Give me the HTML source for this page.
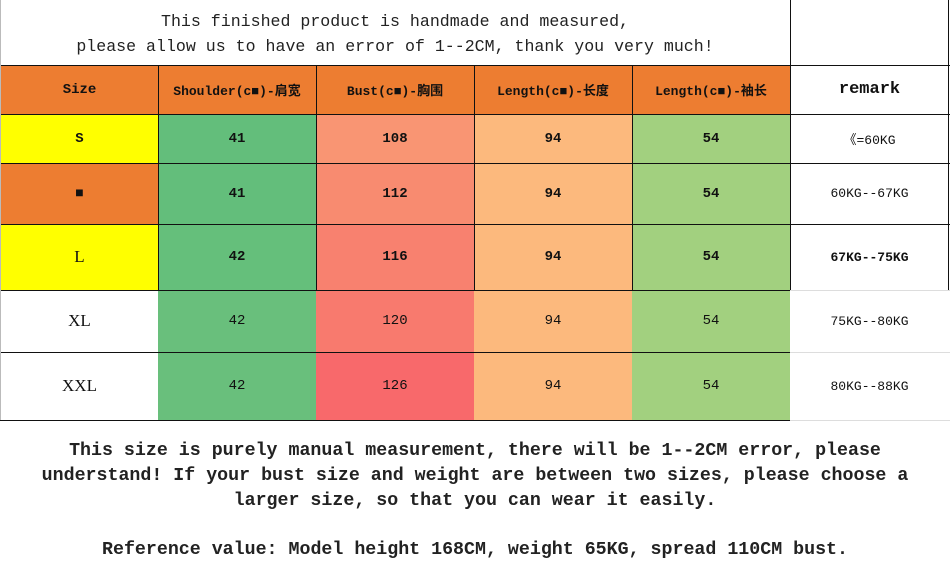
<!DOCTYPE html>
<html><head><meta charset="utf-8"><style>
body{margin:0;width:950px;height:574px;background:#fff;position:relative;overflow:hidden;font-family:"Liberation Mono","Noto Sans CJK SC",monospace;}
.c{position:absolute;display:flex;align-items:center;justify-content:center;color:#111;box-sizing:border-box;white-space:nowrap;}
.b{font-weight:bold;}
.h{position:absolute;background:#111;}
.t{position:absolute;left:0;width:950px;text-align:center;white-space:nowrap;color:#222;}
</style></head><body>
<div class="t" style="top:11px;width:790px;font-size:16.6px;line-height:22px">This finished product is handmade and measured,</div>
<div class="t" style="top:36px;width:790px;font-size:16.6px;line-height:22px">please allow us to have an error of 1--2CM, thank you very much!</div>

<!-- header -->
<div class="c b" style="left:1px;top:65px;width:157px;height:49px;background:#ED7D31;font-size:14px">Size</div>
<div class="c b" style="left:158px;top:65px;width:158px;height:49px;background:#ED7D31;font-size:13px">Shoulder(c■)-肩宽</div>
<div class="c b" style="left:316px;top:65px;width:158px;height:49px;background:#ED7D31;font-size:13px">Bust(c■)-胸围</div>
<div class="c b" style="left:474px;top:65px;width:158px;height:49px;background:#ED7D31;font-size:13px">Length(c■)-长度</div>
<div class="c b" style="left:632px;top:65px;width:158px;height:49px;background:#ED7D31;font-size:13px">Length(c■)-袖长</div>
<div class="c b" style="left:790px;top:65px;width:159px;height:49px;background:#fff;font-size:17px;font-family:'Liberation Mono',monospace">remark</div>

<!-- S -->
<div class="c b" style="left:1px;top:114px;width:157px;height:49px;background:#FFFF00;font-size:14px">S</div>
<div class="c b" style="left:158px;top:114px;width:158px;height:49px;background:#63BE7B;font-size:14px">41</div>
<div class="c b" style="left:316px;top:114px;width:158px;height:49px;background:#F99573;font-size:14px">108</div>
<div class="c b" style="left:474px;top:114px;width:158px;height:49px;background:#FCB97D;font-size:14px">94</div>
<div class="c b" style="left:632px;top:114px;width:158px;height:49px;background:#A2D07F;font-size:14px">54</div>
<div class="c" style="left:790px;top:114px;width:159px;height:49px;font-size:13px">《=60KG</div>
<!-- M -->
<div class="c b" style="left:1px;top:163px;width:157px;height:61px;background:#ED7D31;font-size:14px">■</div>
<div class="c b" style="left:158px;top:163px;width:158px;height:61px;background:#63BE7B;font-size:14px">41</div>
<div class="c b" style="left:316px;top:163px;width:158px;height:61px;background:#F88B70;font-size:14px">112</div>
<div class="c b" style="left:474px;top:163px;width:158px;height:61px;background:#FCB97D;font-size:14px">94</div>
<div class="c b" style="left:632px;top:163px;width:158px;height:61px;background:#A2D07F;font-size:14px">54</div>
<div class="c" style="left:790px;top:163px;width:159px;height:61px;font-size:13px">60KG--67KG</div>
<!-- L -->
<div class="c" style="left:1px;top:224px;width:157px;height:66px;background:#FFFF00;font-size:17px;font-family:'Liberation Serif',serif">L</div>
<div class="c b" style="left:158px;top:224px;width:158px;height:66px;background:#65BF7B;font-size:14px">42</div>
<div class="c b" style="left:316px;top:224px;width:158px;height:66px;background:#F8816F;font-size:14px">116</div>
<div class="c b" style="left:474px;top:224px;width:158px;height:66px;background:#FCB97D;font-size:14px">94</div>
<div class="c b" style="left:632px;top:224px;width:158px;height:66px;background:#A2D07F;font-size:14px">54</div>
<div class="c b" style="left:790px;top:224px;width:159px;height:66px;font-size:13px">67KG--75KG</div>
<!-- XL -->
<div class="c" style="left:1px;top:290px;width:157px;height:62px;font-size:17px;font-family:'Liberation Serif',serif">XL</div>
<div class="c" style="left:158px;top:290px;width:158px;height:62px;background:#69BF7C;font-size:14px">42</div>
<div class="c" style="left:316px;top:290px;width:158px;height:62px;background:#F87A6E;font-size:14px">120</div>
<div class="c" style="left:474px;top:290px;width:158px;height:62px;background:#FCB97D;font-size:14px">94</div>
<div class="c" style="left:632px;top:290px;width:158px;height:62px;background:#A2D07F;font-size:14px">54</div>
<div class="c" style="left:790px;top:290px;width:159px;height:62px;font-size:13px">75KG--80KG</div>
<!-- XXL -->
<div class="c" style="left:1px;top:352px;width:157px;height:68px;font-size:17px;font-family:'Liberation Serif',serif">XXL</div>
<div class="c" style="left:158px;top:352px;width:158px;height:68px;background:#69BF7C;font-size:14px">42</div>
<div class="c" style="left:316px;top:352px;width:158px;height:68px;background:#F8696B;font-size:14px">126</div>
<div class="c" style="left:474px;top:352px;width:158px;height:68px;background:#FCB97D;font-size:14px">94</div>
<div class="c" style="left:632px;top:352px;width:158px;height:68px;background:#A2D07F;font-size:14px">54</div>
<div class="c" style="left:790px;top:352px;width:159px;height:68px;font-size:13px">80KG--88KG</div>

<!-- grid lines -->
<div class="h" style="left:0;top:65px;width:950px;height:1px"></div>
<div class="h" style="left:0;top:114px;width:950px;height:1px"></div>
<div class="h" style="left:0;top:163px;width:950px;height:1px"></div>
<div class="h" style="left:0;top:224px;width:950px;height:1px"></div>
<div class="h" style="left:0;top:290px;width:790px;height:1px"></div>
<div class="h" style="left:0;top:352px;width:790px;height:1px"></div>
<div class="h" style="left:0;top:420px;width:790px;height:1px"></div>
<div class="h" style="left:790px;top:290px;width:160px;height:1px;background:#ddd"></div>
<div class="h" style="left:790px;top:352px;width:160px;height:1px;background:#ddd"></div>
<div class="h" style="left:790px;top:420px;width:160px;height:1px;background:#ddd"></div>
<div class="h" style="left:0;top:0;width:1px;height:420px;background:#bbb"></div>
<div class="h" style="left:158px;top:65px;width:1px;height:225px"></div>
<div class="h" style="left:316px;top:65px;width:1px;height:225px"></div>
<div class="h" style="left:474px;top:65px;width:1px;height:225px"></div>
<div class="h" style="left:632px;top:65px;width:1px;height:225px"></div>
<div class="h" style="left:790px;top:0;width:1px;height:290px"></div>
<div class="h" style="left:948px;top:0;width:1px;height:290px"></div>

<div class="t b" style="top:439px;font-size:18.3px;line-height:25px">This size is purely manual measurement, there will be 1--2CM error, please<br>understand! If your bust size and weight are between two sizes, please choose a<br>larger size, so that you can wear it easily.</div>
<div class="t b" style="top:538px;font-size:18.3px;line-height:25px">Reference value: Model height 168CM, weight 65KG, spread 110CM bust.</div>
</body></html>
